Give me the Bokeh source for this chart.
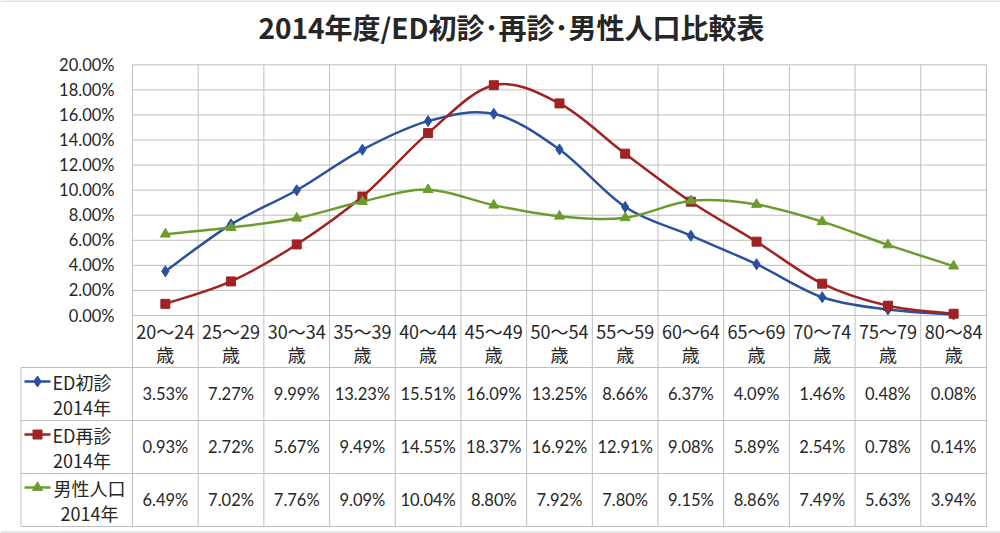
import numpy as np
from bokeh.plotting import figure
from bokeh.models import Range1d
from bokeh.core.properties import value
from bokeh.embed import file_html
from bokeh.resources import INLINE

# ---------------- data ----------------
age_ranges = ["20～24", "25～29", "30～34", "35～39", "40～44", "45～49", "50～54",
              "55～59", "60～64", "65～69", "70～74", "75～79", "80～84"]
age_suffix = "歳"
ed_first = [3.53, 7.27, 9.99, 13.23, 15.51, 16.09, 13.25, 8.66, 6.37, 4.09, 1.46, 0.48, 0.08]
ed_repeat = [0.93, 2.72, 5.67, 9.49, 14.55, 18.37, 16.92, 12.91, 9.08, 5.89, 2.54, 0.78, 0.14]
male_pop = [6.49, 7.02, 7.76, 9.09, 10.04, 8.80, 7.92, 7.80, 9.15, 8.86, 7.49, 5.63, 3.94]
series_names = ["ED初診", "ED再診", "男性人口"]
series_year = "2014年"
y_ticks = [0, 2, 4, 6, 8, 10, 12, 14, 16, 18, 20]
y_tick_labels = ["%.2f%%" % t for t in y_ticks]
title_text = "2014年度/ED初診･再診･男性人口比較表"

# ---------------- style ----------------
colors = ["#2A50A0", "#A02222", "#6C9C2E"]
markers = ["diamond", "square", "triangle"]
marker_sizes = [11, 9, 10]
GRID = "#BFBFBF"
TXT = "#262626"
NUM_FONT = value("Lato")
CJK_FONT = value("Noto Sans CJK JP")

W, H = 1000, 533
UNIT = 65.69          # px per category
PX_PER_PCT = 12.535   # px per 1 %
PLOT_L = 132          # px of category 0 left edge
Y0_PX = 315           # px of 0 %

x_start = -PLOT_L / UNIT
x_end = (W - PLOT_L) / UNIT
y_end = Y0_PX / PX_PER_PCT
y_start = -(H - Y0_PX) / PX_PER_PCT

p = figure(width=W, height=H, output_backend="svg", toolbar_location=None,
           x_range=Range1d(x_start, x_end), y_range=Range1d(y_start, y_end),
           x_axis_type=None, y_axis_type=None,
           min_border_left=0, min_border_right=0, min_border_top=0, min_border_bottom=0)
p.outline_line_color = None
p.background_fill_color = "white"
p.border_fill_color = "white"
p.extra_x_ranges = {"px": Range1d(0, W)}
p.extra_y_ranges = {"px": Range1d(H, 0)}

n = len(age_ranges)
xs = [i + 0.5 for i in range(n)]

# chart-area border (top and bottom edges visible)
p.segment(x0=[0, 0], y0=[0.5, 531.5], x1=[W, W], y1=[0.5, 531.5],
          x_range_name="px", y_range_name="px", line_color="#C8C8C8", line_width=1)

# title
p.text(x=[511], y=[26], text=[title_text], x_range_name="px", y_range_name="px",
       text_align="center", text_baseline="middle", text_font=CJK_FONT,
       text_font_size="28px", text_font_style="bold", text_color="#262626")

# ---------------- grid ----------------
p.segment(x0=[0] * len(y_ticks), y0=y_ticks, x1=[n] * len(y_ticks), y1=y_ticks,
          line_color=GRID, line_width=1)
p.segment(x0=list(range(n + 1)), y0=[64.3] * (n + 1), x1=list(range(n + 1)),
          y1=[526] * (n + 1), y_range_name="px", line_color=GRID, line_width=1)

# table borders
row_lines = [367, 420, 473, 526]
p.segment(x0=[20.5] * len(row_lines), y0=row_lines, x1=[986.7] * len(row_lines), y1=row_lines,
          x_range_name="px", y_range_name="px", line_color=GRID, line_width=1)
p.segment(x0=[20.5], y0=[367], x1=[20.5], y1=[526],
          x_range_name="px", y_range_name="px", line_color=GRID, line_width=1)

# y tick labels
p.text(x=[114] * len(y_ticks), y=y_ticks, text=y_tick_labels, x_range_name="px",
       text_align="right", text_baseline="middle", text_font=NUM_FONT,
       text_font_size="16.5px", text_color=TXT)


# ---------------- smooth series ----------------
def smooth(vals):
    m = len(vals)
    pts = [(xs[i], vals[i]) for i in range(m)]
    get = lambda i: np.array(pts[max(0, min(m - 1, i))])
    seg = dict(x0=[], y0=[], x1=[], y1=[], cx0=[], cy0=[], cx1=[], cy1=[])
    for i in range(m - 1):
        p0, p1, p2, p3 = get(i - 1), get(i), get(i + 1), get(i + 2)
        c1 = p1 + (p2 - p0) / 6.0
        c2 = p2 - (p3 - p1) / 6.0
        seg["x0"].append(p1[0]); seg["y0"].append(p1[1])
        seg["x1"].append(p2[0]); seg["y1"].append(p2[1])
        seg["cx0"].append(c1[0]); seg["cy0"].append(c1[1])
        seg["cx1"].append(c2[0]); seg["cy1"].append(c2[1])
    return seg


all_series = [ed_first, ed_repeat, male_pop]
for vals, col, mk, ms in zip(all_series, colors, markers, marker_sizes):
    s = smooth(vals)
    p.bezier(x0=s["x0"], y0=s["y0"], x1=s["x1"], y1=s["y1"], cx0=s["cx0"], cy0=s["cy0"],
             cx1=s["cx1"], cy1=s["cy1"], line_color=col, line_width=2.5, line_cap="round")
    p.scatter(x=xs, y=vals, marker=mk, size=ms, fill_color=col, line_color=col)

# ---------------- table text ----------------
p.text(x=xs, y=[330] * n, text=age_ranges, y_range_name="px", text_align="center",
       text_baseline="middle", text_font=CJK_FONT, text_font_size="18px", text_color=TXT)
p.text(x=xs, y=[353] * n, text=[age_suffix] * n, y_range_name="px", text_align="center",
       text_baseline="middle", text_font=CJK_FONT, text_font_size="18px", text_color=TXT)

row_mid = [393.5, 446.5, 499.5]
row_top = [367, 420, 473]
label_cx = [81.5, 81.5, 89]
for r, (vals, col, mk, ms) in enumerate(zip(all_series, colors, markers, marker_sizes)):
    p.text(x=xs, y=[row_mid[r]] * n, text=["%.2f%%" % v for v in vals], y_range_name="px",
           text_align="center", text_baseline="middle", text_font=NUM_FONT,
           text_font_size="16.5px", text_color=TXT)
    ly = row_top[r] + 14
    p.line(x=[24, 50], y=[ly, ly], x_range_name="px", y_range_name="px",
           line_color=col, line_width=2.5)
    p.scatter(x=[37], y=[ly], x_range_name="px", y_range_name="px", marker=mk,
              size=ms, fill_color=col, line_color=col)
    p.text(x=[label_cx[r]], y=[ly], text=[series_names[r]], x_range_name="px",
           y_range_name="px", text_align="center", text_baseline="middle",
           text_font=CJK_FONT, text_font_size="18px", text_color=TXT)
    p.text(x=[label_cx[r]], y=[row_top[r] + 39], text=[series_year], x_range_name="px",
           y_range_name="px", text_align="center", text_baseline="middle",
           text_font=CJK_FONT, text_font_size="18px", text_color=TXT)

open("out.html", "w").write(file_html(p, INLINE))
